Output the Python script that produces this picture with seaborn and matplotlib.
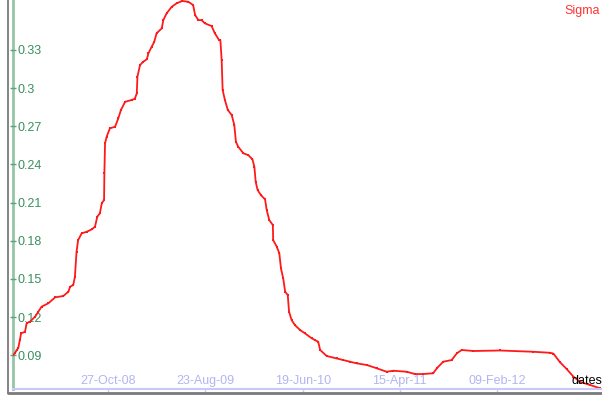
import pandas as pd
import matplotlib.pyplot as plt
import matplotlib.dates as mdates
from matplotlib.lines import Line2D
from matplotlib.ticker import FixedLocator, FuncFormatter
import seaborn as sns

# --- data ---
dates = [
    "2008-01-06", "2008-01-13", "2008-01-18", "2008-01-23", "2008-01-28", "2008-02-01",
    "2008-02-13", "2008-02-18", "2008-02-28", "2008-03-15", "2008-03-25", "2008-04-04",
    "2008-04-25", "2008-05-16", "2008-06-10", "2008-06-26", "2008-07-01", "2008-07-11",
    "2008-07-16", "2008-07-21", "2008-07-26", "2008-08-06", "2008-08-21", "2008-09-06",
    "2008-09-16", "2008-09-23", "2008-10-01", "2008-10-07", "2008-10-14", "2008-10-15",
    "2008-10-17", "2008-10-22", "2008-11-01", "2008-11-17", "2008-11-27", "2008-12-05",
    "2008-12-18", "2009-01-07", "2009-01-17", "2009-01-23", "2009-01-25", "2009-02-02",
    "2009-02-12", "2009-02-23", "2009-02-28", "2009-03-10", "2009-03-18", "2009-03-25",
    "2009-04-10", "2009-04-15", "2009-04-25", "2009-05-11", "2009-05-26", "2009-06-12",
    "2009-07-01", "2009-07-16", "2009-07-22", "2009-08-01", "2009-08-11", "2009-08-21",
    "2009-09-11", "2009-09-21", "2009-10-04", "2009-10-08", "2009-10-12", "2009-10-15",
    "2009-10-22", "2009-10-31", "2009-11-12", "2009-11-20", "2009-11-25", "2009-12-02",
    "2009-12-18", "2010-01-02", "2010-01-15", "2010-01-21", "2010-01-25", "2010-01-31",
    "2010-02-10", "2010-02-23", "2010-02-28", "2010-03-08", "2010-03-19", "2010-03-20",
    "2010-03-31", "2010-04-08", "2010-04-13", "2010-04-20", "2010-04-26", "2010-05-04",
    "2010-05-08", "2010-05-16", "2010-05-26", "2010-06-11", "2010-06-26", "2010-07-17",
    "2010-07-27", "2010-08-06", "2010-08-12", "2010-09-01", "2010-10-02", "2010-10-22",
    "2010-11-12", "2010-12-03", "2011-01-03", "2011-02-03", "2011-03-05", "2011-03-26",
    "2011-05-06", "2011-06-01", "2011-06-26", "2011-07-27", "2011-08-07", "2011-08-27",
    "2011-09-22", "2011-10-08", "2011-10-23", "2011-11-28", "2012-02-18", "2012-05-31",
    "2012-07-22", "2012-08-01", "2012-08-21", "2012-09-11", "2012-10-02", "2012-10-22",
    "2012-11-22", "2012-12-23",
]
sigma = [
    0.0902, 0.0916, 0.0942, 0.0955, 0.1019, 0.1073,
    0.1085, 0.1152, 0.1164, 0.1203, 0.1243, 0.1282,
    0.1309, 0.1356, 0.1366, 0.1400, 0.1439, 0.1453,
    0.1518, 0.1714, 0.1806, 0.1859, 0.1871, 0.1890,
    0.1911, 0.1989, 0.2016, 0.2095, 0.2121, 0.2331,
    0.2566, 0.2618, 0.2684, 0.2697, 0.2763, 0.2828,
    0.2893, 0.2907, 0.2917, 0.2959, 0.3090, 0.3182,
    0.3208, 0.3227, 0.3274, 0.3326, 0.3365, 0.3431,
    0.3470, 0.3535, 0.3588, 0.3640, 0.3667, 0.3685,
    0.3679, 0.3653, 0.3575, 0.3535, 0.3535, 0.3510,
    0.3488, 0.3431, 0.3378, 0.3378, 0.3221, 0.2986,
    0.2907, 0.2828, 0.2789, 0.2711, 0.2579, 0.2540,
    0.2488, 0.2474, 0.2441, 0.2382, 0.2264, 0.2199,
    0.2160, 0.2126, 0.2042, 0.1963, 0.1924, 0.1806,
    0.1754, 0.1702, 0.1584, 0.1505, 0.1400, 0.1374,
    0.1243, 0.1177, 0.1138, 0.1099, 0.1073, 0.1034,
    0.1020, 0.1007, 0.0942, 0.0895, 0.0876, 0.0863,
    0.0850, 0.0837, 0.0824, 0.0798, 0.0771, 0.0779,
    0.0771, 0.0753, 0.0753, 0.0759, 0.0798, 0.0850,
    0.0863, 0.0916, 0.0942, 0.0934, 0.0938, 0.0928,
    0.0920, 0.0914, 0.0847, 0.0792, 0.0732, 0.0692,
    0.0667, 0.0641,
]
x_ticks = ["2008-10-27", "2009-08-23", "2010-06-19", "2011-04-15", "2012-02-09"]
y_ticks = [0.09, 0.12, 0.15, 0.18, 0.21, 0.24, 0.27, 0.30, 0.33]
x_range = ["2008-01-06", "2012-12-29"]
y_range = [0.0633, 0.3693]

df = pd.DataFrame({"dates": pd.to_datetime(dates), "Sigma": sigma})

# --- style ---
sns.set_theme(style="white")
plt.rcParams["font.family"] = ["Liberation Sans", "DejaVu Sans"]

GREEN_TXT = "#3a8f60"
GREEN_TICK = "#5fa37d"
GREEN_AX = "#96c4a6"
BLUE_TXT = "#b4b4f4"
BLUE_AX = "#c8c8fa"
RED = "#ff1a1a"

fig = plt.figure(figsize=(6.02, 4.0), dpi=100)
ax = fig.add_axes([12.7 / 602, 10.7 / 400, 1 - 12.7 / 602, 1 - 10.7 / 400])

sns.lineplot(data=df, x="dates", y="Sigma", ax=ax, color=RED, lw=1.3,
             marker="s", markersize=1.6, markeredgewidth=0)

ax.set_xlim(pd.to_datetime(x_range))
ax.set_ylim(y_range)
ax.set_xlabel("")
ax.set_ylabel("")

# x axis: light blue, labels sit just above the axis line
ax.xaxis.set_major_locator(FixedLocator(mdates.date2num(pd.to_datetime(x_ticks))))
ax.xaxis.set_major_formatter(mdates.DateFormatter("%d-%b-%y"))
ax.tick_params(axis="x", bottom=True, direction="out", length=2.5, width=1,
               color=BLUE_AX, labelcolor=BLUE_TXT, labelsize=9, pad=-12.5)

# y axis: green, labels to the right of the axis line
ax.yaxis.set_major_locator(FixedLocator(y_ticks))
ax.yaxis.set_major_formatter(FuncFormatter(lambda v, p: f"{round(v, 2):g}"))
ax.tick_params(axis="y", left=True, direction="inout", length=3.8, width=1,
               color=GREEN_TICK, labelcolor=GREEN_TXT, labelsize=9, pad=-5)
for lab in ax.get_yticklabels():
    lab.set_horizontalalignment("left")

for side in ["top", "right"]:
    ax.spines[side].set_visible(False)
ax.spines["left"].set_color(GREEN_AX)
ax.spines["left"].set_linewidth(2)
ax.spines["bottom"].set_color(BLUE_AX)
ax.spines["bottom"].set_linewidth(1.5)
ax.spines["left"].set_zorder(0.5)
ax.grid(False)

ax.text(0.997, 0.988, "Sigma", transform=ax.transAxes, ha="right", va="top",
        color="#ff3333", fontsize=9)
ax.text(1.0, 0.006, "dates", transform=ax.transAxes, ha="right", va="bottom",
        color="black", fontsize=9)

# gray outer frame on the left and bottom
fig.add_artist(Line2D([8.3 / 602, 8.3 / 602], [7.3 / 400, 1], transform=fig.transFigure,
                      color="#7a7a7a", lw=1.3))
fig.add_artist(Line2D([8.3 / 602, 1], [7.3 / 400, 7.3 / 400], transform=fig.transFigure,
                      color="#7a7a7a", lw=2))

fig.savefig("out.png", dpi=100)
